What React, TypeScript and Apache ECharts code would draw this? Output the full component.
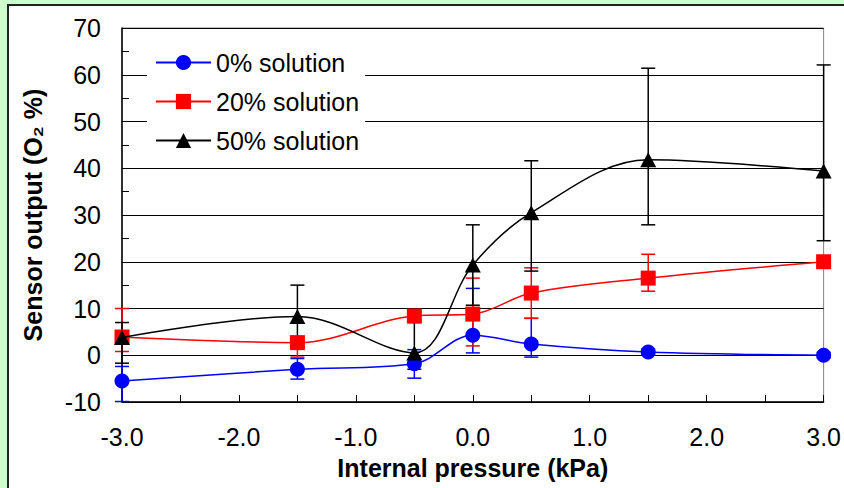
import React, { useEffect, useRef } from "react";
import * as echarts from "echarts";

const pressure = [-3, -1.5, -0.5, 0, 0.5, 1.5, 3];

const sol0 = [-5.5, -3.0, -1.8, 4.3, 2.4, 0.7, 0.0];
const sol0Low = [-9.9, -5.1, -4.9, 0.5, -0.4, 0.1, -0.6];
const sol0High = [-2.4, -0.7, 1.2, 14.3, 7.9, 1.3, 0.6];

const sol20 = [3.9, 2.7, 8.4, 8.8, 13.3, 16.5, 20.0];
const sol20Low = [0.8, -0.4, 7.5, 2.0, 7.9, 13.7, 19.2];
const sol20High = [10.0, 3.5, 9.3, 16.5, 18.7, 21.6, 20.8];

const sol50 = [3.8, 8.3, 0.5, 19.3, 30.5, 41.8, 39.4];
const sol50Low = [-1.7, 2.0, -3.0, 10.7, 18.0, 27.9, 24.5];
const sol50High = [7.0, 15.0, 7.0, 27.9, 41.6, 61.4, 62.1];

const seriesNames = ["0% solution", "20% solution", "50% solution"];
const seriesColors = ["#0000ff", "#ff0000", "#000000"];

const FONT = "'Liberation Sans', Arial, sans-serif";

export default function App() {
  const ref = useRef<HTMLDivElement>(null);

  useEffect(() => {
    document.body.style.margin = "0";
    const chart = echarts.init(ref.current!, null, { renderer: "svg" });

    const pts = (vals: number[]) => pressure.map((x, i) => [x, vals[i]]);
    const errs = (lo: number[], hi: number[]) => pressure.map((x, i) => [x, lo[i], hi[i]]);

    const errSeries = (id: string, lo: number[], hi: number[], color: string, z: number) => ({
      type: "custom",
      name: id,
      data: errs(lo, hi),
      encode: { x: 0, y: [1, 2] },
      clip: false,
      z,
      silent: true,
      renderItem: (_p: any, api: any) => {
        const x = api.value(0);
        const a = api.coord([x, api.value(1)]);
        const b = api.coord([x, api.value(2)]);
        const w = 7;
        const style = { stroke: color, lineWidth: 1.5, fill: "none" };
        return {
          type: "group",
          children: [
            { type: "line", shape: { x1: a[0], y1: a[1], x2: b[0], y2: b[1] }, style },
            { type: "line", shape: { x1: a[0] - w, y1: a[1], x2: a[0] + w, y2: a[1] }, style },
            { type: "line", shape: { x1: b[0] - w, y1: b[1], x2: b[0] + w, y2: b[1] }, style },
          ],
        };
      },
    });

    const lineSeries = (name: string, vals: number[], color: string, symbol: string, size: any, z: number) => ({
      type: "line",
      name,
      data: pts(vals),
      smooth: 0.35,
      symbol,
      symbolSize: size,
      clip: false,
      z,
      lineStyle: { color, width: 1.5 },
      itemStyle: { color },
    });

    chart.setOption({
      animation: false,
      backgroundColor: "transparent",
      textStyle: { fontFamily: FONT },
      grid: {
        left: 122,
        right: 20,
        top: 28,
        bottom: 86,
        show: true,
        borderColor: "#808080",
        borderWidth: 1,
        backgroundColor: "transparent",
      },
      legend: {
        orient: "vertical",
        left: 147,
        top: 40,
        itemWidth: 55,
        itemHeight: 19,
        itemGap: 14,
        padding: [10, 6, 8, 8],
        backgroundColor: "#ffffff",
        textStyle: { fontSize: 25, color: "#000", fontFamily: FONT },
        data: seriesNames,
      },
      xAxis: {
        type: "value",
        min: -3,
        max: 3,
        interval: 0.5,
        name: "Internal pressure (kPa)",
        nameLocation: "middle",
        nameGap: 53,
        nameTextStyle: { fontSize: 25, fontWeight: "bold", color: "#000", fontFamily: FONT },
        axisLine: { show: true, onZero: false, lineStyle: { color: "#000", width: 1.5 } },
        axisTick: { show: true, inside: true, length: 7, lineStyle: { color: "#000", width: 1 } },
        axisLabel: {
          fontSize: 25,
          color: "#000",
          margin: 22,
          fontFamily: FONT,
          formatter: (v: number) => (Math.abs(v - Math.round(v)) < 1e-9 ? v.toFixed(1) : ""),
        },
        splitLine: { show: false },
      },
      yAxis: {
        type: "value",
        min: -10,
        max: 70,
        interval: 10,
        name: "Sensor output (O₂ %)",
        nameLocation: "middle",
        nameGap: 77,
        nameTextStyle: { fontSize: 25, fontWeight: "bold", color: "#000", fontFamily: FONT },
        axisLine: { show: true, onZero: false, lineStyle: { color: "#000", width: 1.5 } },
        axisTick: { show: true, inside: true, length: 7, lineStyle: { color: "#000", width: 1 } },
        minorTick: { show: true, splitNumber: 2, length: 7, lineStyle: { color: "#000", width: 1 } },
        axisLabel: { fontSize: 25, color: "#000", margin: 21, fontFamily: FONT },
        splitLine: { show: true, lineStyle: { color: "#000", width: 1 } },
      },
      series: [
        errSeries("err0", sol0Low, sol0High, seriesColors[0], 2),
        errSeries("err20", sol20Low, sol20High, seriesColors[1], 2),
        errSeries("err50", sol50Low, sol50High, seriesColors[2], 2),
        lineSeries(seriesNames[0], sol0, seriesColors[0], "circle", 15, 3),
        lineSeries(seriesNames[1], sol20, seriesColors[1], "rect", 15, 4),
        lineSeries(seriesNames[2], sol50, seriesColors[2], "triangle", [16, 15], 5),
      ],
    });

    return () => chart.dispose();
  }, []);

  return (
    <div style={{ position: "relative", width: 844, height: 488, background: "#ccffcc", overflow: "hidden" }}>
      <div
        style={{
          position: "absolute",
          left: 7,
          top: 4,
          width: 900,
          height: 600,
          background: "#ffffff",
          border: "2px solid #222",
          boxSizing: "border-box",
        }}
      />
      <div ref={ref} style={{ position: "absolute", left: 0, top: 0, width: 844, height: 488 }} />
    </div>
  );
}
